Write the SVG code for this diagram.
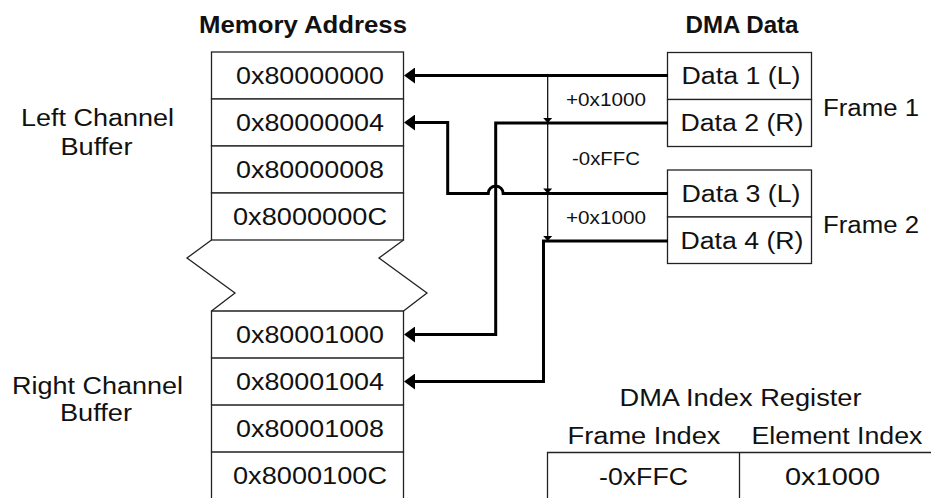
<svg xmlns="http://www.w3.org/2000/svg" width="932" height="498" viewBox="0 0 932 498">
  <style>
    .box { fill: #fff; stroke: #222; stroke-width: 1.3; }
    .edge { fill: none; stroke: #222; stroke-width: 1.3; }
    .t { font-family: "Liberation Sans", Arial, sans-serif; font-size: 23.5px; fill: #111; text-anchor: middle; }
    .s { font-family: "Liberation Sans", Arial, sans-serif; font-size: 18.5px; fill: #111; text-anchor: middle; }
    .h { font-family: "Liberation Sans", Arial, sans-serif; font-size: 24px; font-weight: bold; fill: #111; text-anchor: middle; }
    .wire { fill: none; stroke: #000; stroke-width: 3; marker-end: url(#head); }
    .step { fill: none; stroke: #000; stroke-width: 1.2; }
    .tick { fill: #000; }
  </style>
  <defs>
    <marker id="head" viewBox="0 0 11 16" markerWidth="11" markerHeight="16" refX="9" refY="8" orient="auto" markerUnits="userSpaceOnUse">
      <path d="M0,0 L11,8 L0,16 Z" fill="#000"/>
    </marker>
    <path id="tri" d="M-4.5,-5 L4.5,-5 L0,0 Z"/>
  </defs>

  <!-- column headings -->
  <text class="h" x="303" y="33" textLength="208" lengthAdjust="spacingAndGlyphs">Memory Address</text>
  <text class="h" x="742" y="33" textLength="113" lengthAdjust="spacingAndGlyphs">DMA Data</text>

  <!-- buffer captions -->
  <text class="t" x="97.5" y="126" textLength="153" lengthAdjust="spacingAndGlyphs">Left Channel</text>
  <text class="t" x="96.5" y="155" textLength="72" lengthAdjust="spacingAndGlyphs">Buffer</text>
  <text class="t" x="97.5" y="393.5" textLength="171" lengthAdjust="spacingAndGlyphs">Right Channel</text>
  <text class="t" x="96" y="421" textLength="72" lengthAdjust="spacingAndGlyphs">Buffer</text>

  <!-- left channel buffer cells -->
  <g id="mem-80000000">
    <rect class="box" x="211.5" y="52" width="192" height="47"/>
    <text class="t" x="310" y="83.5" textLength="148" lengthAdjust="spacingAndGlyphs">0x80000000</text>
  </g>
  <g id="mem-80000004">
    <rect class="box" x="211.5" y="99" width="192" height="47"/>
    <text class="t" x="310" y="130.5" textLength="148" lengthAdjust="spacingAndGlyphs">0x80000004</text>
  </g>
  <g id="mem-80000008">
    <rect class="box" x="211.5" y="146" width="192" height="47"/>
    <text class="t" x="310" y="177.5" textLength="148" lengthAdjust="spacingAndGlyphs">0x80000008</text>
  </g>
  <g id="mem-8000000C">
    <rect class="box" x="211.5" y="193" width="192" height="47"/>
    <text class="t" x="310" y="224.5" textLength="154" lengthAdjust="spacingAndGlyphs">0x8000000C</text>
  </g>

  <!-- address gap between the two buffers -->
  <g id="gap">
    <polyline class="edge" points="211.5,240 187,258 235,293 211.5,311"/>
    <polyline class="edge" points="403.5,240 379,258 427,293 403.5,311"/>
  </g>

  <!-- right channel buffer cells -->
  <g id="mem-80001000">
    <path class="edge" d="M211.5,358 V311 H403.5 V358"/>
    <text class="t" x="310" y="342.5" textLength="148" lengthAdjust="spacingAndGlyphs">0x80001000</text>
  </g>
  <g id="mem-80001004">
    <path class="edge" d="M211.5,405 V358 H403.5 V405"/>
    <text class="t" x="310" y="389.5" textLength="148" lengthAdjust="spacingAndGlyphs">0x80001004</text>
  </g>
  <g id="mem-80001008">
    <path class="edge" d="M211.5,452 V405 H403.5 V452"/>
    <text class="t" x="310" y="436.5" textLength="148" lengthAdjust="spacingAndGlyphs">0x80001008</text>
  </g>
  <g id="mem-8000100C">
    <path class="edge" d="M211.5,499 V452 H403.5 V499"/>
    <text class="t" x="310" y="483.5" textLength="154" lengthAdjust="spacingAndGlyphs">0x8000100C</text>
  </g>

  <!-- DMA data frames -->
  <g id="frame1">
    <rect class="box" x="667.5" y="52.5" width="144" height="47"/>
    <rect class="box" x="667.5" y="99.5" width="144" height="47"/>
    <text class="t" x="741" y="84" textLength="119" lengthAdjust="spacingAndGlyphs">Data 1 (L)</text>
    <text class="t" x="742" y="130.5" textLength="123" lengthAdjust="spacingAndGlyphs">Data 2 (R)</text>
    <text class="t" x="871" y="116" textLength="96" lengthAdjust="spacingAndGlyphs">Frame 1</text>
  </g>
  <g id="frame2">
    <rect class="box" x="667.5" y="170" width="144" height="47"/>
    <rect class="box" x="667.5" y="217" width="144" height="46.5"/>
    <text class="t" x="741" y="202" textLength="119" lengthAdjust="spacingAndGlyphs">Data 3 (L)</text>
    <text class="t" x="742" y="249" textLength="123" lengthAdjust="spacingAndGlyphs">Data 4 (R)</text>
    <text class="t" x="871" y="232.5" textLength="96" lengthAdjust="spacingAndGlyphs">Frame 2</text>
  </g>

  <!-- DMA index register -->
  <g id="index-register">
    <text class="t" x="740.5" y="406" textLength="242" lengthAdjust="spacingAndGlyphs">DMA Index Register</text>
    <text class="t" x="644" y="444" textLength="153" lengthAdjust="spacingAndGlyphs">Frame Index</text>
    <text class="t" x="837" y="444" textLength="171" lengthAdjust="spacingAndGlyphs">Element Index</text>
    <path class="edge" d="M547.5,499 V452.5 H931 M739.5,452.5 V499"/>
    <text class="t" x="643.5" y="484.5" textLength="89" lengthAdjust="spacingAndGlyphs">-0xFFC</text>
    <text class="t" x="832.5" y="484.5" textLength="95" lengthAdjust="spacingAndGlyphs">0x1000</text>
  </g>

  <!-- connectors -->
  <g id="connectors">
    <!-- address step ruler -->
    <line class="step" x1="547.7" y1="75" x2="547.7" y2="241"/>
    <use href="#tri" class="tick" x="547.7" y="123"/>
    <use href="#tri" class="tick" x="547.7" y="193.5"/>
    <use href="#tri" class="tick" x="547.7" y="241"/>
    <text class="s" x="606" y="106" textLength="80" lengthAdjust="spacingAndGlyphs">+0x1000</text>
    <text class="s" x="606" y="165" textLength="68" lengthAdjust="spacingAndGlyphs">-0xFFC</text>
    <text class="s" x="606" y="223.5" textLength="80" lengthAdjust="spacingAndGlyphs">+0x1000</text>

    <!-- data to memory -->
    <path class="wire" d="M668,75.5 H406"/>
    <path class="wire" d="M668,123 H495.7 V334.5 H406"/>
    <path class="wire" d="M668,193.5 H503.2 A7.5,7.5 0 0 0 488.2,193.5 H447.7 V122.5 H406"/>
    <path class="wire" d="M668,241 H543.5 V381.5 H406"/>
  </g>
</svg>
